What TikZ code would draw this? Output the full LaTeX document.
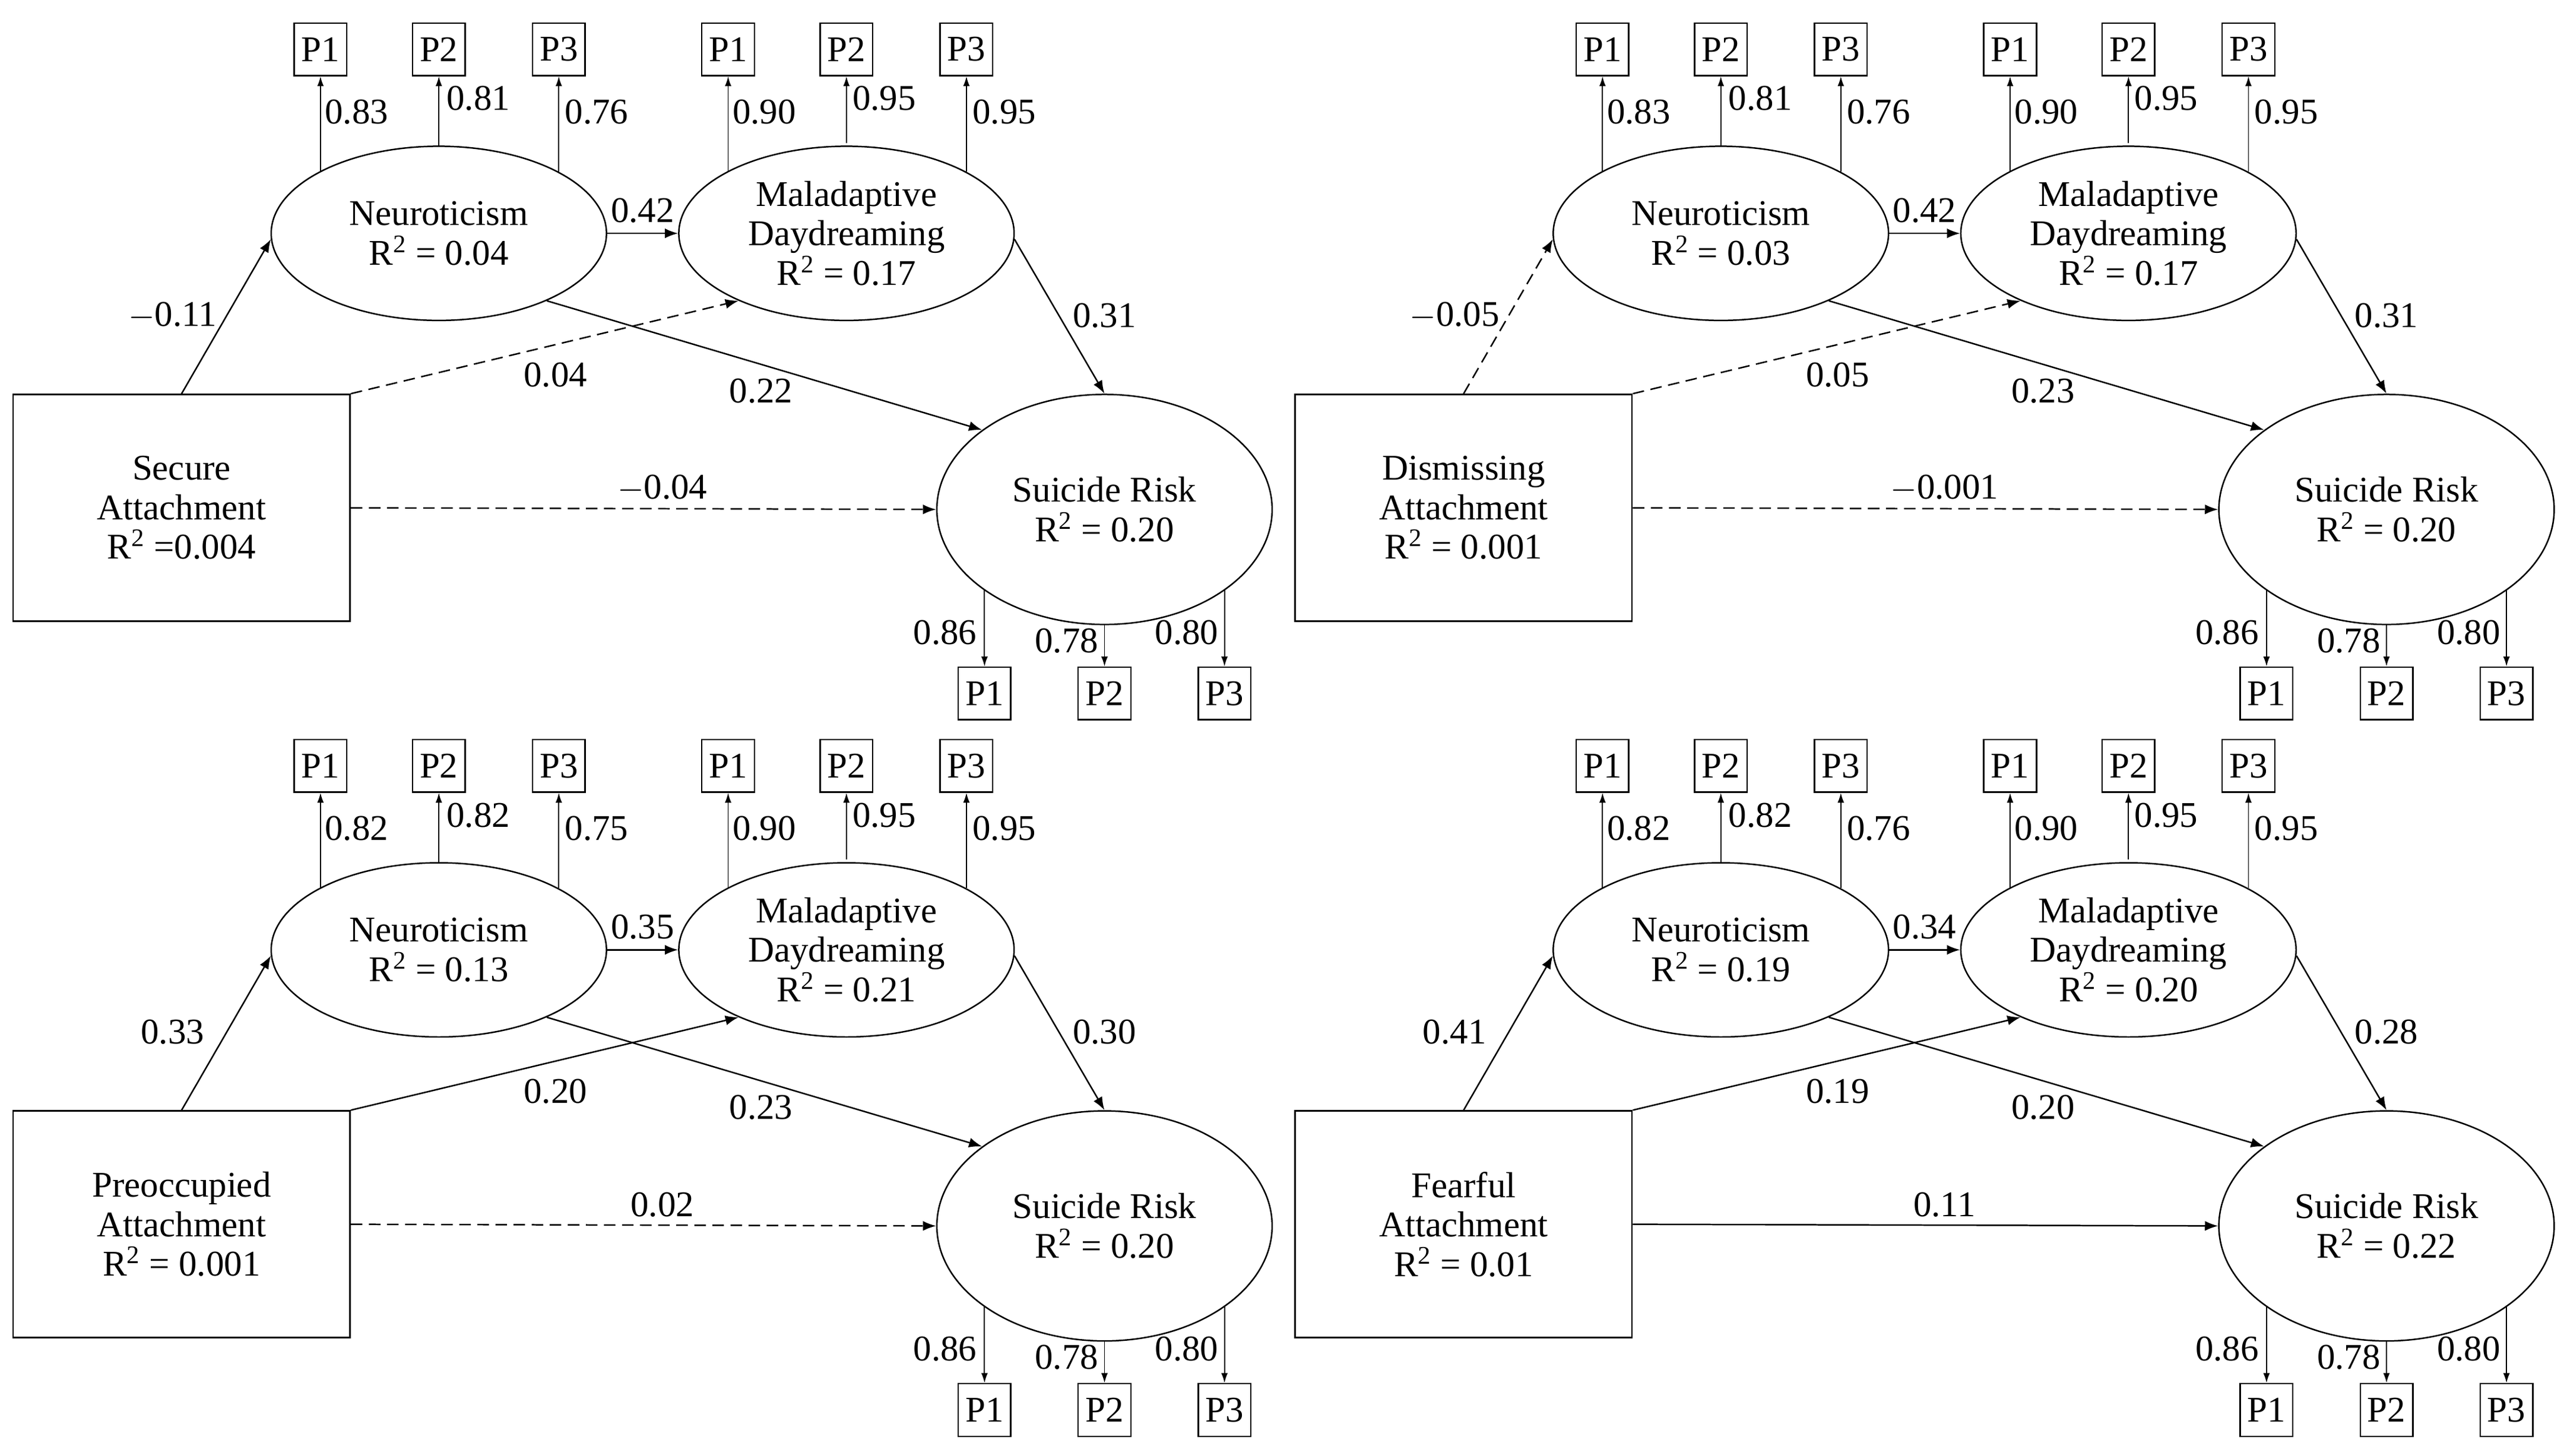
\documentclass[tikz,border=0pt]{standalone}
\usepackage{fontspec}
\setmainfont{Liberation Serif}
\usetikzlibrary{arrows.meta,shapes.geometric}
\begin{document}
\begin{tikzpicture}[x=1pt,y=-1pt,
  every node/.style={font=\fontsize{22}{24}\selectfont},
  lat/.style={draw,ellipse,minimum width=204pt,minimum height=106pt,inner sep=0pt,align=center,line width=0.9pt},
  obs/.style={draw,minimum width=205pt,minimum height=138pt,align=center,line width=0.9pt},
  ind/.style={draw,minimum width=32pt,minimum height=32pt,inner sep=1pt,line width=0.9pt},
  arr/.style={-{Latex[length=8pt,width=6pt]},line width=0.9pt},
  sarr/.style={-{Latex[length=6pt,width=4pt]},line width=0.7pt},
  dsh/.style={dash pattern=on 7pt off 4pt},
  sol/.style={}]
\useasboundingbox (0,0) rectangle (1560,886);
\newcommand\panel[9]{%
\begin{scope}[shift={(#2,#3)}]
\node[obs] (#1B) at (110.5,309) {#4};
\node[lat] (#1N) at (267,142) {Neuroticism\\R\textsuperscript{2} = #5};
\node[lat] (#1M) at (515,142) {Maladaptive\\Daydreaming\\R\textsuperscript{2} = #6};
\node[lat,minimum height=140pt] (#1S) at (672,310) {Suicide Risk\\R\textsuperscript{2} = #7};
\foreach \x/\n in {195/1,267/2,340/3} {\node[ind] (#1NP\n) at (\x,30) {P\n};}
\foreach \x/\n in {443/1,515/2,588/3} {\node[ind] (#1MP\n) at (\x,30) {P\n};}
\foreach \x/\n in {599/1,672/2,745/3} {\node[ind] (#1SP\n) at (\x,422) {P\n};}
\coordinate (#1n1) at (195,104.5); \coordinate (#1n2) at (267,89); \coordinate (#1n3) at (340,104.5);
\coordinate (#1m1) at (443,104.5); \coordinate (#1m2) at (515,87); \coordinate (#1m3) at (588,104.5);
\coordinate (#1s1) at (599,359); \coordinate (#1s2) at (672,380); \coordinate (#1s3) at (745,359);
\foreach \n in {1,2,3} {
 \draw[sarr] (#1n\n) -- (#1NP\n.south);
 \draw[sarr] (#1m\n) -- (#1MP\n.south);
 \draw[sarr] (#1s\n) -- (#1SP\n.north);}
\draw[arr,#8] (#1B.north) -- (#1N.182);
\draw[arr,#9] (#1B.north east) -- (#1M.212);
\draw[arr,\stC] (#1B.east) -- (#1S.west);
\draw[arr] (#1N.east) -- (#1M.west);
\draw[arr] (#1N.-32) -- (#1S.147);
\draw[arr] (#1M.-2) -- (#1S.north);
\node at (105,192) {\la};
\node at (338,228) {\lb};
\node at (403,297) {\lc};
\node at (391,128) {\ld};
\node at (463,238) {\le};
\node at (672,192) {\lf};
\node at (217,68) {\ta}; \node at (291,60) {\tb}; \node at (363,68) {\tc};
\node at (465,68) {0.90}; \node at (538,60) {0.95}; \node at (611,68) {0.95};
\node at (575,385) {0.86}; \node at (649,390) {0.78}; \node at (722,385) {0.80};
\end{scope}}
% panel 1
\def\stC{dsh}\def\la{$-$0.11}\def\lb{0.04}\def\lc{$-$0.04}\def\ld{0.42}\def\le{0.22}\def\lf{0.31}
\def\ta{0.83}\def\tb{0.81}\def\tc{0.76}
\panel{a}{0}{0}{Secure\\Attachment\\R\textsuperscript{2} =0.004}{0.04}{0.17}{0.20}{sol}{dsh}
% panel 2
\def\stC{dsh}\def\la{$-$0.05}\def\lb{0.05}\def\lc{$-$0.001}\def\ld{0.42}\def\le{0.23}\def\lf{0.31}
\def\ta{0.83}\def\tb{0.81}\def\tc{0.76}
\panel{b}{780}{0}{Dismissing\\Attachment\\R\textsuperscript{2} = 0.001}{0.03}{0.17}{0.20}{dsh}{dsh}
% panel 3
\def\stC{dsh}\def\la{0.33}\def\lb{0.20}\def\lc{0.02}\def\ld{0.35}\def\le{0.23}\def\lf{0.30}
\def\ta{0.82}\def\tb{0.82}\def\tc{0.75}
\panel{c}{0}{436}{Preoccupied\\Attachment\\R\textsuperscript{2} = 0.001}{0.13}{0.21}{0.20}{sol}{sol}
% panel 4
\def\stC{sol}\def\la{0.41}\def\lb{0.19}\def\lc{0.11}\def\ld{0.34}\def\le{0.20}\def\lf{0.28}
\def\ta{0.82}\def\tb{0.82}\def\tc{0.76}
\panel{d}{780}{436}{Fearful\\Attachment\\R\textsuperscript{2} = 0.01}{0.19}{0.20}{0.22}{sol}{sol}
\end{tikzpicture}
\end{document}
